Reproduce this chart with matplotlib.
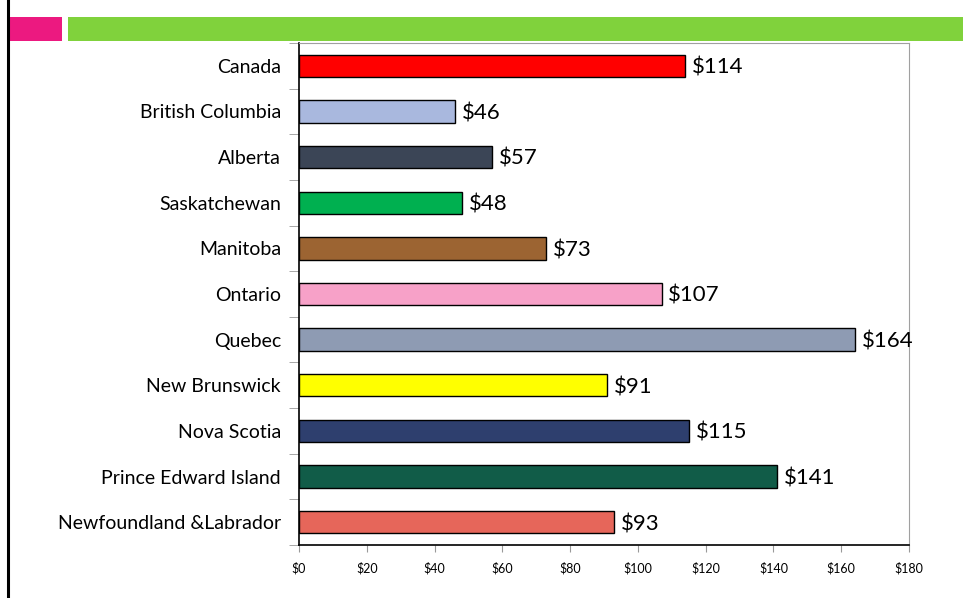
import matplotlib.pyplot as plt
import numpy as np
from matplotlib.patches import Rectangle
from matplotlib.lines import Line2D

provinces = ["Canada", "British Columbia", "Alberta", "Saskatchewan", "Manitoba",
             "Ontario", "Quebec", "New Brunswick", "Nova Scotia",
             "Prince Edward Island", "Newfoundland &Labrador"]
values = [114, 46, 57, 48, 73, 107, 164, 91, 115, 141, 93]
colors = ["#FF0000", "#A9B8DE", "#3B4556", "#00B050", "#9C6432", "#F7A1C8",
          "#8E9BB3", "#FFFF00", "#2E3F6E", "#115C48", "#E6665A"]
xticks = list(range(0, 181, 20))

plt.rcParams['font.family'] = ['Lato', 'DejaVu Sans']

fig = plt.figure(figsize=(9.63, 5.98), dpi=100)

# slide decorations
fig.add_artist(Line2D([7.5 / 963, 7.5 / 963], [0, 1], color="black", lw=2.2))
fig.add_artist(Rectangle((8 / 963, 1 - 41 / 598), 54 / 963, 24 / 598,
                         color="#EC1980", lw=0))
fig.add_artist(Rectangle((68 / 963, 1 - 41 / 598), 895 / 963, 24 / 598,
                         color="#80D23C", lw=0))

ax = fig.add_axes([299 / 963, 53 / 598, 610 / 963, 502 / 598])
y = np.arange(len(provinces))
ax.barh(y, values, height=0.49, color=colors, edgecolor="black", linewidth=1)

for yi, v in zip(y, values):
    ax.text(v + 2, yi + 0.04, f"${v}", va="center", ha="left", fontsize=16)

ax.set_ylim(len(provinces) - 0.5, -0.5)
ax.set_xlim(0, 180)
ax.set_yticks(y)
ax.set_yticklabels(provinces, fontsize=14)
ax.tick_params(axis="y", length=0, pad=13)
ax.set_yticks(np.arange(-0.5, len(provinces)), minor=True)
ax.tick_params(axis="y", which="minor", length=7, color="#999999")
ax.set_xticks(xticks)
ax.set_xticklabels([f"${t}" for t in xticks], fontsize=9)
ax.tick_params(axis="x", length=5, color="#999999", pad=7)

for side in ["top", "right"]:
    ax.spines[side].set_color("#A0A0A0")
for side in ["left", "bottom"]:
    ax.spines[side].set_color("black")
    ax.spines[side].set_linewidth(1.2)

fig.savefig("out.png", dpi=100)
